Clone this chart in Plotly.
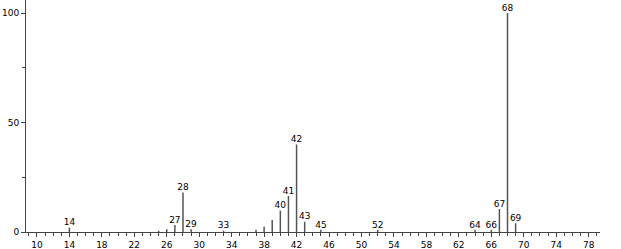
import plotly.graph_objects as go

mz = [14, 25, 26, 27, 28, 29, 33, 37, 38, 39, 40, 41, 42, 43, 45, 52, 64, 66, 67, 68, 69]
intensity = [2, 0.6, 1.2, 3.2, 18, 1.2, 0.6, 1, 2.4, 5.5, 9.8, 16.5, 40, 4.7, 1, 1, 1, 1, 10.5, 100, 4]
labeled = [14, 27, 28, 29, 33, 40, 41, 42, 43, 45, 52, 64, 66, 67, 68, 69]
x_ticks = list(range(10, 79, 4))
y_ticks = [0, 50, 100]

xs, ys = [], []
for m, h in zip(mz, intensity):
    xs += [m, m, None]
    ys += [0, h, None]

lab_x = [m for m in mz if m in labeled]
lab_y = [h for m, h in zip(mz, intensity) if m in labeled]

fig = go.Figure()
fig.add_trace(go.Scatter(x=xs, y=ys, mode="lines",
                         line=dict(color="#555555", width=1.5),
                         hoverinfo="skip", showlegend=False))
fig.add_trace(go.Scatter(x=lab_x, y=lab_y, mode="text",
                         text=[str(m) for m in lab_x],
                         textposition="top center",
                         textfont=dict(family="DejaVu Sans", size=9, color="black"),
                         showlegend=False))

fig.update_layout(
    width=621, height=249,
    margin=dict(l=26, r=21, t=0, b=17),
    paper_bgcolor="white", plot_bgcolor="white",
    font=dict(family="DejaVu Sans", size=9, color="black"),
    xaxis=dict(range=[8.65, 79.4], tickvals=x_ticks, showgrid=False, zeroline=False,
               showline=True, linecolor="#444", linewidth=1,
               ticks="outside", ticklen=4, tickcolor="#444",
               minor=dict(dtick=1, tick0=0, ticks="outside", ticklen=3, tickcolor="#444"),
               tickfont=dict(size=9)),
    yaxis=dict(range=[0, 106], tickvals=y_ticks, showgrid=False, zeroline=False,
               showline=True, linecolor="#444", linewidth=1,
               ticks="outside", ticklen=4, tickcolor="#444",
               minor=dict(dtick=25, ticks="outside", ticklen=3, tickcolor="#444"),
               tickfont=dict(size=9)),
)
fig.write_html("out.html")
